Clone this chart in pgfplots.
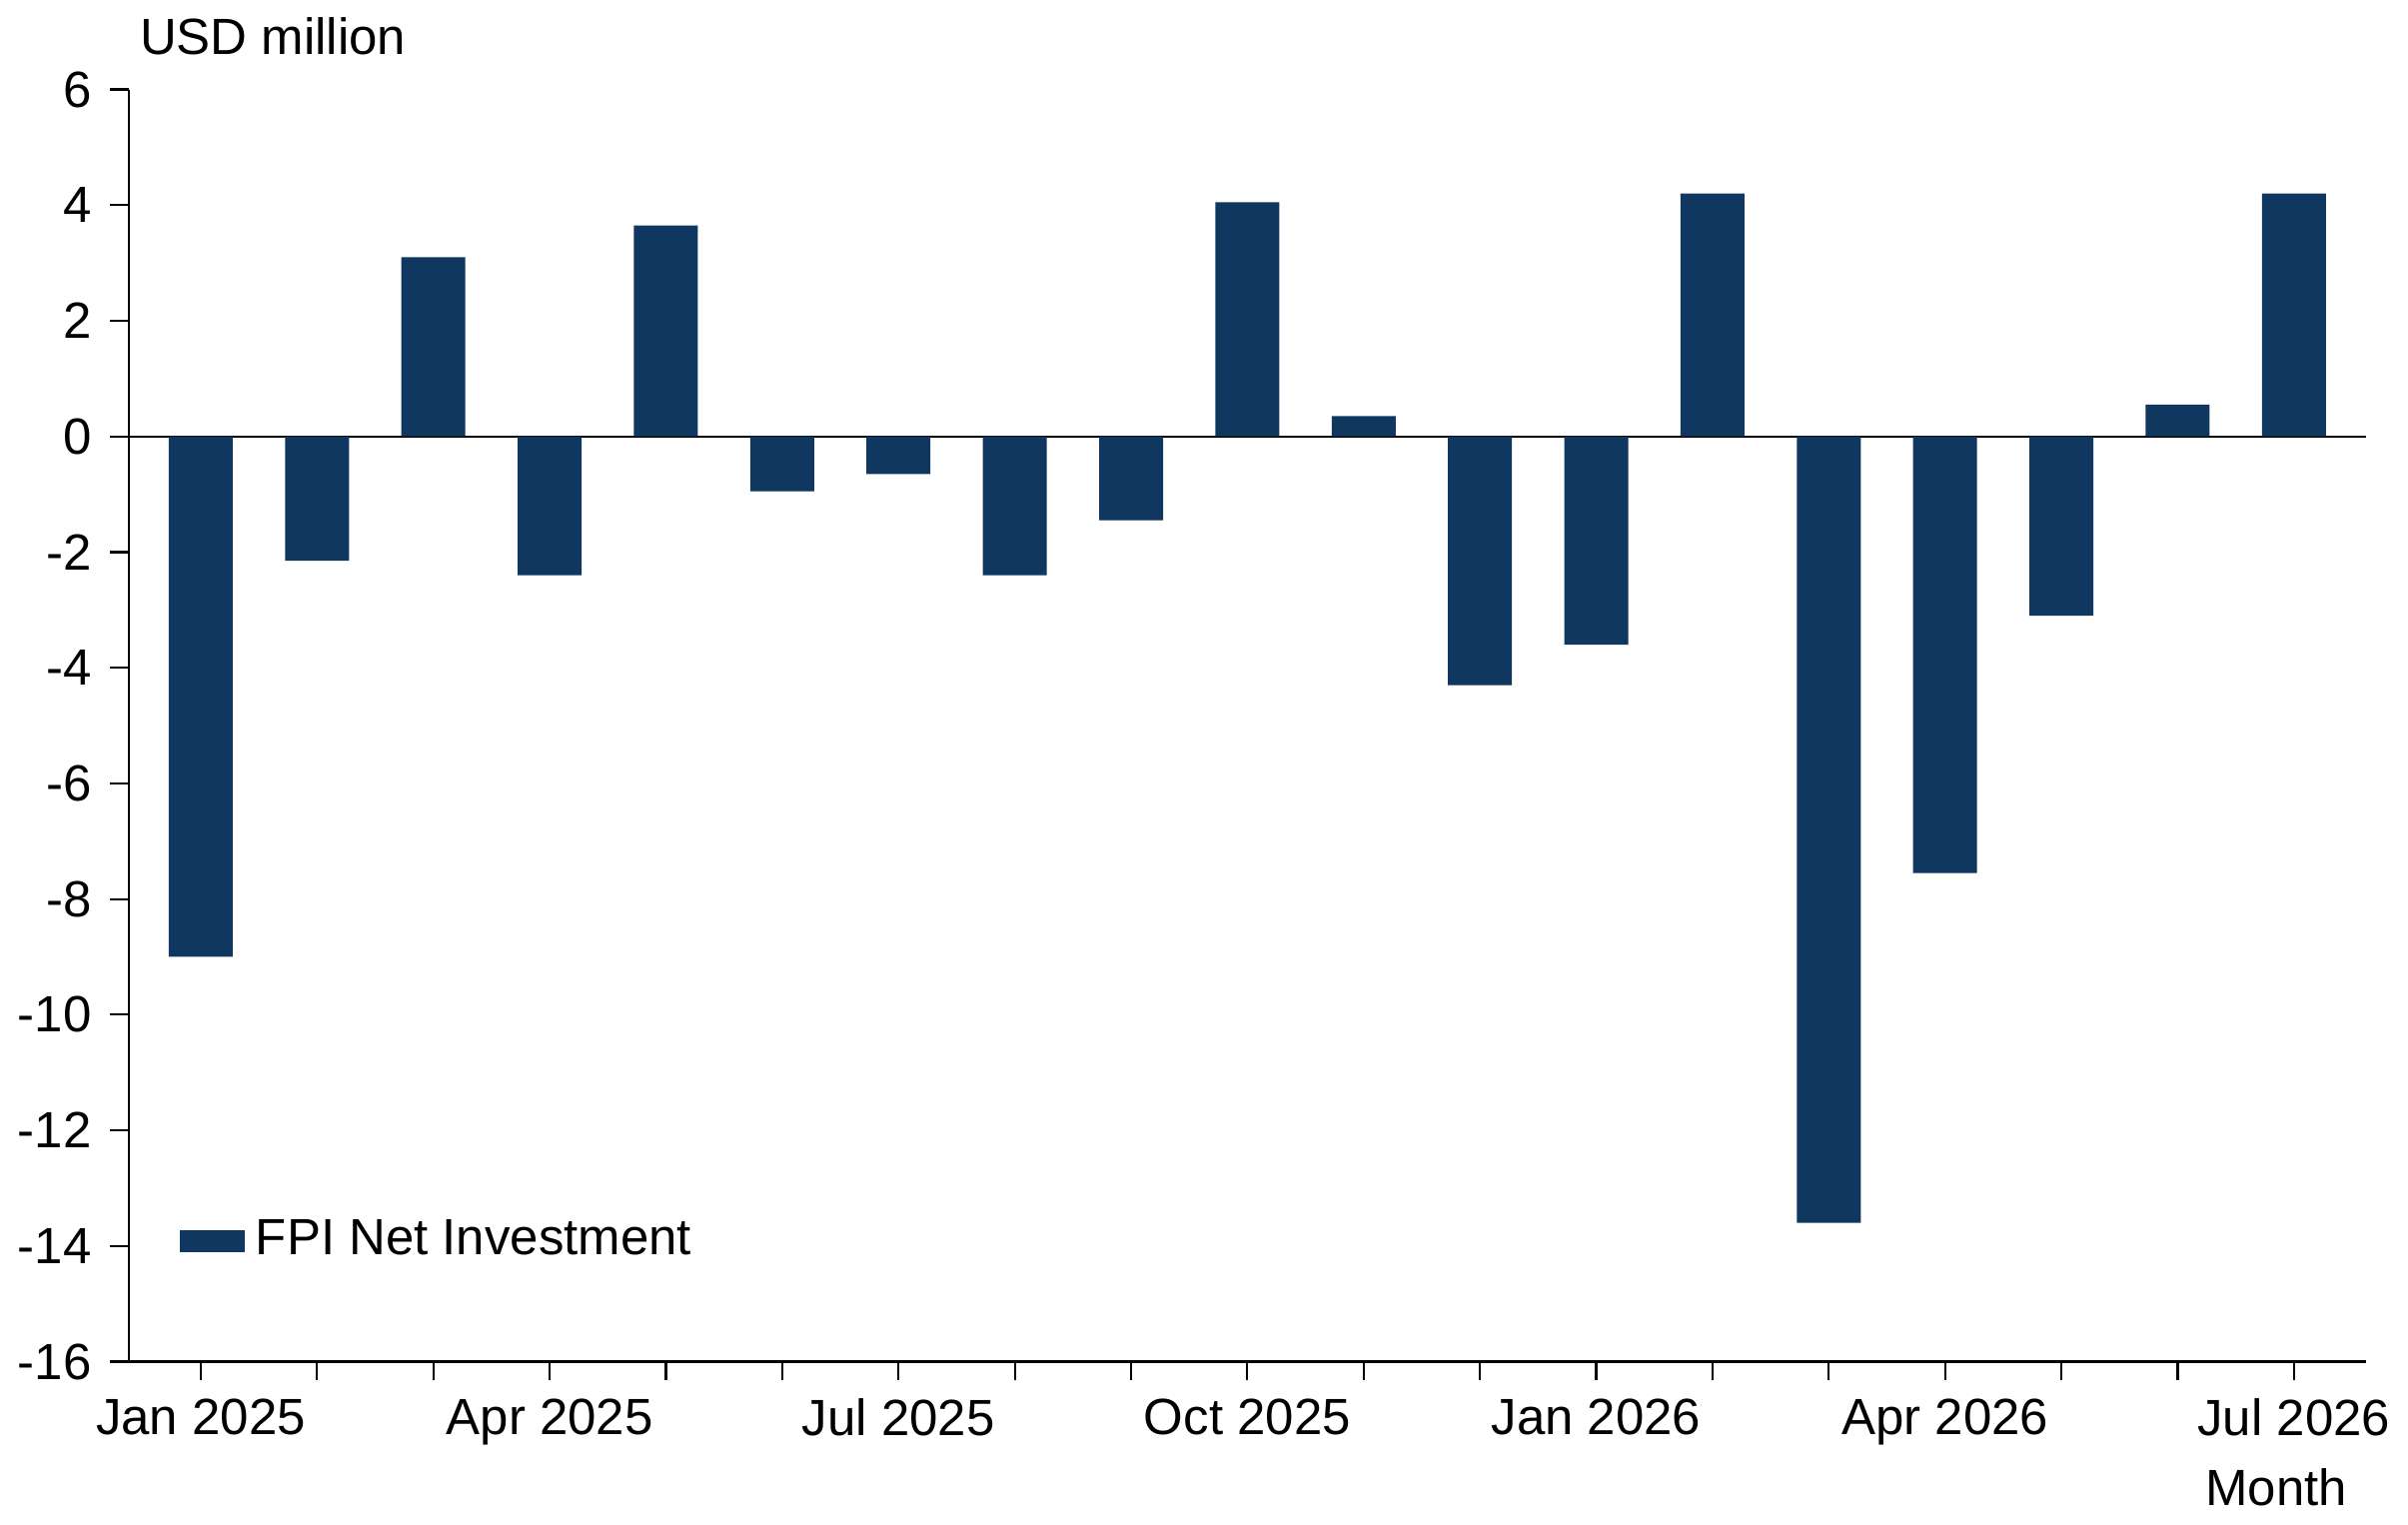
\documentclass[border=0pt]{standalone}
\usepackage{pgfplots}
\pgfplotsset{compat=1.18}
\usepackage{fontspec}
\setmainfont{Liberation Sans}
\definecolor{navy}{HTML}{10375F}
\begin{document}
\begin{tikzpicture}
\begin{axis}[
  scale only axis, width=14.67cm, height=8.34cm,
  font=\fontsize{9.5}{11}\selectfont,
  /pgf/number format/assume math mode=true,
  axis x line*=bottom, axis y line*=left,
  xmin=-0.62, xmax=18.62, ymin=-16, ymax=6,
  ytick={-16,-14,...,6},
  xtick={0,3,6,9,12,15,18},
  xticklabels={Jan 2025,Apr 2025,Jul 2025,Oct 2025,Jan 2026,Apr 2026,Jul 2026},
  minor xtick={1,2,4,5,7,8,10,11,13,14,16,17},
  tick align=outside, tick pos=left,
  major tick length=0.12cm, minor tick length=0.12cm,
  tick style={black, thin}, minor tick style={black, thin},
  axis line style={black, thin},
  ybar, bar width=0.55, bar shift=0pt,
  legend style={at={(0.015,0.06)}, anchor=south west, draw=none, fill=none, font=\fontsize{9.5}{11}\selectfont},
  legend image code/.code={\fill[navy] (0cm,-0.07cm) rectangle (0.43cm,0.07cm);},
  clip=false,
  extra y ticks={0}, extra y tick labels={}, extra y tick style={grid=major, major grid style={black, thin}, tick style={draw=none}},
]
\addplot[fill=navy, draw=none] coordinates {
(0,-9) (1,-2.15) (2,3.1) (3,-2.4) (4,3.65) (5,-0.95) (6,-0.65) (7,-2.4) (8,-1.45) (9,4.05) (10,0.35) (11,-4.3) (12,-3.6) (13,4.2) (14,-13.6) (15,-7.55) (16,-3.1) (17,0.55) (18,4.2)};
\addlegendentry{FPI Net Investment}
\node[anchor=south west, font=\fontsize{9.5}{11}\selectfont] at (rel axis cs:0,1) [xshift=-0.05cm, yshift=0.1cm] {USD million};
\node[anchor=north east, font=\fontsize{9.5}{11}\selectfont] at (rel axis cs:1,0) [yshift=-0.58cm] {Month};
\end{axis}
\end{tikzpicture}
\end{document}
